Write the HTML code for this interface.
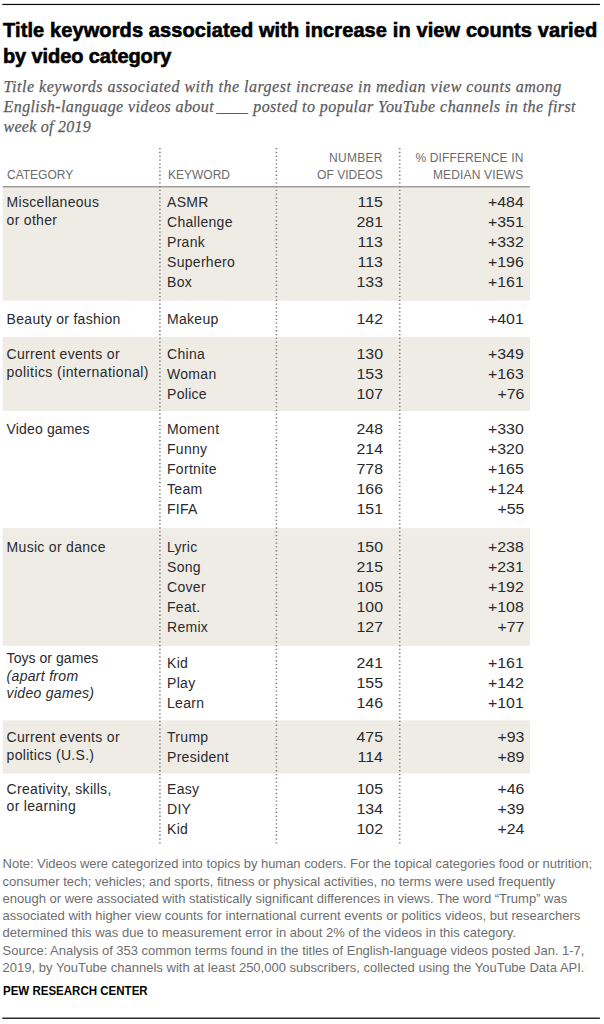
<!DOCTYPE html>
<html lang="en">
<head>
<meta charset="utf-8">
<title>Title keywords associated with increase in view counts varied by video category</title>
<style>
html,body{margin:0;padding:0;background:#fff}
body{width:604px;height:1024px;position:relative;overflow:hidden;font-family:"Liberation Sans",sans-serif}
.t{position:absolute;white-space:nowrap;line-height:20px;display:block}
.r{position:absolute}
.dots{position:absolute;left:0;top:0}
.ttl{font-size:20px;font-weight:bold;color:#000;-webkit-text-stroke:0.6px #000}
.sub{font-family:"Liberation Serif",serif;font-style:italic;font-size:16px;color:#5c5c60;-webkit-text-stroke:0.25px #5c5c60}
.hd{font-size:12px;color:#6b6b6b}
.c{font-size:14px;color:#2a2a2d;letter-spacing:0.3px}
.it{font-style:italic}
.n{font-size:15px;color:#2a2a2d;transform:scaleX(1.06);transform-origin:100% 50%}
.nt{font-size:13px;color:#6e6e6e}
.pew{font-size:13px;font-weight:bold;color:#000;transform:scaleX(0.886);transform-origin:0 50%}
</style>
</head>
<body>
<svg class="dots" width="604" height="1024" viewBox="0 0 604 1024"><rect x="2.3" y="3.85" width="597.6" height="1.2" fill="#0a0a0a"/><rect x="2.3" y="1017.55" width="597.6" height="1.35" fill="#141414"/><rect x="2.65" y="187.3" width="527.3" height="113.4" fill="#efece6"/><rect x="2.65" y="336.9" width="527.3" height="74.0" fill="#efece6"/><rect x="2.65" y="528.1" width="527.3" height="117.7" fill="#efece6"/><rect x="2.65" y="720.4" width="527.3" height="53.0" fill="#efece6"/><rect x="2.65" y="186.0" width="527.3" height="1.5" fill="#9b9b9b"/><line x1="159.9" y1="148.05" x2="159.9" y2="843.5" stroke="#808086" stroke-width="1.6" stroke-dasharray="1.3 2.493"/><line x1="276.4" y1="148.05" x2="276.4" y2="843.5" stroke="#808086" stroke-width="1.6" stroke-dasharray="1.3 2.493"/><line x1="399.7" y1="148.05" x2="399.7" y2="843.5" stroke="#808086" stroke-width="1.6" stroke-dasharray="1.3 2.493"/></svg>
<span class="t ttl" style="left:3px;top:20px;letter-spacing:0.11px">Title keywords associated with increase in view counts varied</span>
<span class="t ttl" style="left:3px;top:46px;letter-spacing:-0.1px">by video category</span>
<span class="t sub" style="left:3.6px;top:77px;letter-spacing:0.5px">Title keywords associated with the largest increase in median view counts among</span>
<span class="t sub" style="left:3.6px;top:97px;letter-spacing:0.39px">English-language videos about<span style="letter-spacing:-0.25px;margin-left:2.6px">____</span><span style="letter-spacing:0.44px;margin-left:1.2px"> posted to popular YouTube channels in the first</span></span>
<span class="t sub" style="left:3.6px;top:117px;letter-spacing:0.25px">week of 2019</span>
<span class="t hd" style="left:7px;top:165px">CATEGORY</span>
<span class="t hd" style="left:168px;top:165px">KEYWORD</span>
<span class="t hd" style="right:221.2px;top:148px;letter-spacing:0.3px">NUMBER</span>
<span class="t hd" style="right:221.2px;top:165px;letter-spacing:0.05px">OF VIDEOS</span>
<span class="t hd" style="right:80.5px;top:148px;letter-spacing:0.14px">% DIFFERENCE IN</span>
<span class="t hd" style="right:80.5px;top:165px;letter-spacing:0.16px">MEDIAN VIEWS</span>
<span class="t c" style="left:6.6px;top:192px">Miscellaneous</span>
<span class="t c" style="left:6.6px;top:210px">or other</span>
<span class="t c" style="left:6.6px;top:309px">Beauty or fashion</span>
<span class="t c" style="left:6.6px;top:344px">Current events or</span>
<span class="t c" style="left:6.6px;top:362px;letter-spacing:0.42px">politics (international)</span>
<span class="t c" style="left:6.6px;top:419px;letter-spacing:0.15px">Video games</span>
<span class="t c" style="left:6.6px;top:537px">Music or dance</span>
<span class="t c" style="left:6.6px;top:648px;letter-spacing:0.05px">Toys or games</span>
<span class="t c it" style="left:6.6px;top:666px">(apart from</span>
<span class="t c it" style="left:6.6px;top:683px">video games)</span>
<span class="t c" style="left:6.6px;top:727px">Current events or</span>
<span class="t c" style="left:6.6px;top:745px">politics (U.S.)</span>
<span class="t c" style="left:6.6px;top:779px">Creativity, skills,</span>
<span class="t c" style="left:6.6px;top:796px">or learning</span>
<span class="t c" style="left:167.0px;top:192px">ASMR</span>
<span class="t n" style="right:221.0px;top:192px">115</span>
<span class="t n" style="right:80.0px;top:192px">+484</span>
<span class="t c" style="left:167.0px;top:212px">Challenge</span>
<span class="t n" style="right:221.0px;top:212px">281</span>
<span class="t n" style="right:80.0px;top:212px">+351</span>
<span class="t c" style="left:167.0px;top:232px">Prank</span>
<span class="t n" style="right:221.0px;top:232px">113</span>
<span class="t n" style="right:80.0px;top:232px">+332</span>
<span class="t c" style="left:167.0px;top:252px">Superhero</span>
<span class="t n" style="right:221.0px;top:252px">113</span>
<span class="t n" style="right:80.0px;top:252px">+196</span>
<span class="t c" style="left:167.0px;top:272px">Box</span>
<span class="t n" style="right:221.0px;top:272px">133</span>
<span class="t n" style="right:80.0px;top:272px">+161</span>
<span class="t c" style="left:167.0px;top:309px">Makeup</span>
<span class="t n" style="right:221.0px;top:309px">142</span>
<span class="t n" style="right:80.0px;top:309px">+401</span>
<span class="t c" style="left:167.0px;top:344px">China</span>
<span class="t n" style="right:221.0px;top:344px">130</span>
<span class="t n" style="right:80.0px;top:344px">+349</span>
<span class="t c" style="left:167.0px;top:364px">Woman</span>
<span class="t n" style="right:221.0px;top:364px">153</span>
<span class="t n" style="right:80.0px;top:364px">+163</span>
<span class="t c" style="left:167.0px;top:384px">Police</span>
<span class="t n" style="right:221.0px;top:384px">107</span>
<span class="t n" style="right:80.0px;top:384px">+76</span>
<span class="t c" style="left:167.0px;top:419px">Moment</span>
<span class="t n" style="right:221.0px;top:419px">248</span>
<span class="t n" style="right:80.0px;top:419px">+330</span>
<span class="t c" style="left:167.0px;top:439px">Funny</span>
<span class="t n" style="right:221.0px;top:439px">214</span>
<span class="t n" style="right:80.0px;top:439px">+320</span>
<span class="t c" style="left:167.0px;top:459px">Fortnite</span>
<span class="t n" style="right:221.0px;top:459px">778</span>
<span class="t n" style="right:80.0px;top:459px">+165</span>
<span class="t c" style="left:167.0px;top:479px">Team</span>
<span class="t n" style="right:221.0px;top:479px">166</span>
<span class="t n" style="right:80.0px;top:479px">+124</span>
<span class="t c" style="left:167.0px;top:499px">FIFA</span>
<span class="t n" style="right:221.0px;top:499px">151</span>
<span class="t n" style="right:80.0px;top:499px">+55</span>
<span class="t c" style="left:167.0px;top:537px">Lyric</span>
<span class="t n" style="right:221.0px;top:537px">150</span>
<span class="t n" style="right:80.0px;top:537px">+238</span>
<span class="t c" style="left:167.0px;top:557px">Song</span>
<span class="t n" style="right:221.0px;top:557px">215</span>
<span class="t n" style="right:80.0px;top:557px">+231</span>
<span class="t c" style="left:167.0px;top:577px">Cover</span>
<span class="t n" style="right:221.0px;top:577px">105</span>
<span class="t n" style="right:80.0px;top:577px">+192</span>
<span class="t c" style="left:167.0px;top:597px">Feat.</span>
<span class="t n" style="right:221.0px;top:597px">100</span>
<span class="t n" style="right:80.0px;top:597px">+108</span>
<span class="t c" style="left:167.0px;top:617px">Remix</span>
<span class="t n" style="right:221.0px;top:617px">127</span>
<span class="t n" style="right:80.0px;top:617px">+77</span>
<span class="t c" style="left:167.0px;top:653px">Kid</span>
<span class="t n" style="right:221.0px;top:653px">241</span>
<span class="t n" style="right:80.0px;top:653px">+161</span>
<span class="t c" style="left:167.0px;top:673px">Play</span>
<span class="t n" style="right:221.0px;top:673px">155</span>
<span class="t n" style="right:80.0px;top:673px">+142</span>
<span class="t c" style="left:167.0px;top:693px">Learn</span>
<span class="t n" style="right:221.0px;top:693px">146</span>
<span class="t n" style="right:80.0px;top:693px">+101</span>
<span class="t c" style="left:167.0px;top:727px">Trump</span>
<span class="t n" style="right:221.0px;top:727px">475</span>
<span class="t n" style="right:80.0px;top:727px">+93</span>
<span class="t c" style="left:167.0px;top:747px">President</span>
<span class="t n" style="right:221.0px;top:747px">114</span>
<span class="t n" style="right:80.0px;top:747px">+89</span>
<span class="t c" style="left:167.0px;top:779px">Easy</span>
<span class="t n" style="right:221.0px;top:779px">105</span>
<span class="t n" style="right:80.0px;top:779px">+46</span>
<span class="t c" style="left:167.0px;top:799px">DIY</span>
<span class="t n" style="right:221.0px;top:799px">134</span>
<span class="t n" style="right:80.0px;top:799px">+39</span>
<span class="t c" style="left:167.0px;top:819px">Kid</span>
<span class="t n" style="right:221.0px;top:819px">102</span>
<span class="t n" style="right:80.0px;top:819px">+24</span>
<span class="t nt" style="left:2.6px;top:854px;letter-spacing:-0.034px">Note: Videos were categorized into topics by human coders. For the topical categories food or nutrition;</span>
<span class="t nt" style="left:2.6px;top:872px;letter-spacing:-0.008px">consumer tech; vehicles; and sports, fitness or physical activities, no terms were used frequently</span>
<span class="t nt" style="left:2.6px;top:889px;letter-spacing:-0.002px">enough or were associated with statistically significant differences in views. The word &ldquo;Trump&rdquo; was</span>
<span class="t nt" style="left:2.6px;top:906px;letter-spacing:0.010px">associated with higher view counts for international current events or politics videos, but researchers</span>
<span class="t nt" style="left:2.6px;top:923px;letter-spacing:0.006px">determined this was due to measurement error in about 2% of the videos in this category.</span>
<span class="t nt" style="left:2.6px;top:941px;letter-spacing:-0.021px">Source: Analysis of 353 common terms found in the titles of English-language videos posted Jan. 1-7,</span>
<span class="t nt" style="left:2.6px;top:958px;letter-spacing:0.011px">2019, by YouTube channels with at least 250,000 subscribers, collected using the YouTube Data API.</span>
<span class="t pew" style="left:2.7px;top:981px">PEW RESEARCH CENTER</span>
</body>
</html>
